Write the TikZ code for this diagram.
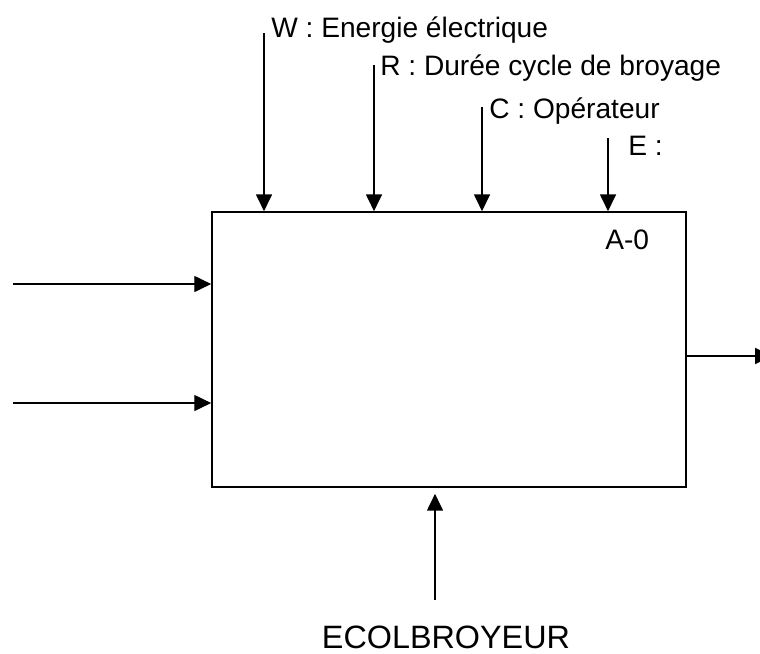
\documentclass[tikz,border=0pt]{standalone}
\usepackage{fontspec}
\setmainfont{Liberation Sans}
\usetikzlibrary{arrows.meta,positioning,calc}

\begin{document}
\begin{tikzpicture}[
    x=0.025cm, y=-0.025cm,
    bloc/.style={rectangle, draw=black, line width=1.1pt, minimum width=11.85cm, minimum height=6.875cm, inner sep=0pt},
    lbl/.style={anchor=base west, inner sep=0pt, font=\fontsize{20}{24}\selectfont},
    arr/.style={-{Triangle[width=0.4cm, length=0.42cm]}, line width=0.9pt, draw=black}
]
    \useasboundingbox (0,0) rectangle (760,653);

    \node [bloc] (box) at (449,349.5) {};
    \node [lbl] (a0) at (605,249) {A-0};

    % controles
    \node [lbl] (lw) at (271,37) {W : Energie électrique};
    \node [lbl] (lr) at (380,75) {R : Durée cycle de broyage};
    \node [lbl] (lc) at (489,118) {C : Opérateur};
    \node [lbl] (le) at (628,155) {E :};
    \coordinate (w) at (264,33);
    \coordinate (r) at (374,65);
    \coordinate (c) at (482,107);
    \coordinate (e) at (608,138);

    % entrees / sortie / support
    \coordinate (i1) at (13,284);
    \coordinate (i2) at (13,403);
    \coordinate (o1) at (772,356);
    \coordinate (m) at (435,600);
    \node [anchor=base, inner sep=0pt, font=\fontsize{23}{27}\selectfont] (eco) at (446,648) {ECOLBROYEUR};

    \draw [arr] (w) -- (w |- box.north);
    \draw [arr] (r) -- (r |- box.north);
    \draw [arr] (c) -- (c |- box.north);
    \draw [arr] (e) -- (e |- box.north);
    \draw [arr] (i1) -- (i1 -| box.west);
    \draw [arr] (i2) -- (i2 -| box.west);
    \draw [arr] (box.east |- o1) -- (o1);
    \draw [arr, shorten >=0.15cm] (m) -- (m |- box.south);
\end{tikzpicture}
\end{document}
